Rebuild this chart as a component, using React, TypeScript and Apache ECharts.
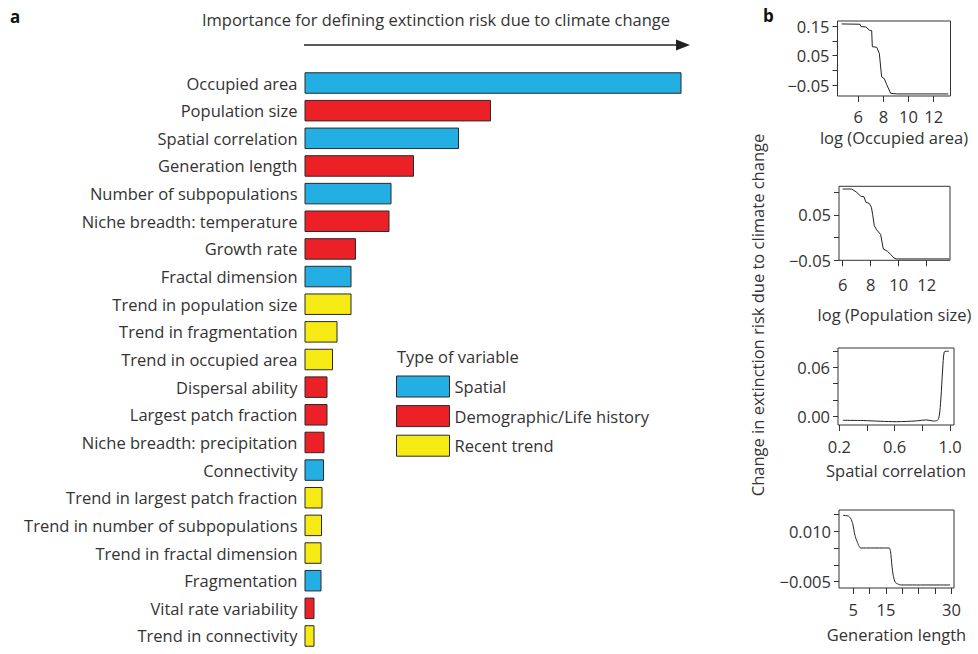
import React, { useEffect, useRef } from "react";
import * as echarts from "echarts";

const FONT = '"Open Sans", "Noto Sans", sans-serif';
const TEXT = "#333333";

// ---- Panel a: variable importance ----
const categories = [
  "Occupied area",
  "Population size",
  "Spatial correlation",
  "Generation length",
  "Number of subpopulations",
  "Niche breadth: temperature",
  "Growth rate",
  "Fractal dimension",
  "Trend in population size",
  "Trend in fragmentation",
  "Trend in occupied area",
  "Dispersal ability",
  "Largest patch fraction",
  "Niche breadth: precipitation",
  "Connectivity",
  "Trend in largest patch fraction",
  "Trend in number of subpopulations",
  "Trend in fractal dimension",
  "Fragmentation",
  "Vital rate variability",
  "Trend in connectivity",
];
const importance = [
  37.7, 18.65, 15.45, 10.95, 8.7, 8.5, 5.15, 4.7, 4.7, 3.3, 2.85, 2.3, 2.3, 2.0,
  1.95, 1.8, 1.75, 1.7, 1.7, 1.0, 1.0,
];
const variableType = [
  "Spatial",
  "Demographic/Life history",
  "Spatial",
  "Demographic/Life history",
  "Spatial",
  "Demographic/Life history",
  "Demographic/Life history",
  "Spatial",
  "Recent trend",
  "Recent trend",
  "Recent trend",
  "Demographic/Life history",
  "Demographic/Life history",
  "Demographic/Life history",
  "Spatial",
  "Recent trend",
  "Recent trend",
  "Recent trend",
  "Spatial",
  "Demographic/Life history",
  "Recent trend",
];
const typeNames = ["Spatial", "Demographic/Life history", "Recent trend"];
const typeColors = ["#23aee4", "#ec2128", "#f5ea14"];

// ---- Panel b: partial dependence curves ----
const occAreaX = [4.68, 6.14, 6.22, 6.61, 6.88, 7.07, 7.12, 7.47, 7.68, 7.86, 8.07, 8.26, 8.58, 9.06, 13.17];
const occAreaY = [0.157, 0.156, 0.148, 0.147, 0.136, 0.134, 0.08, 0.078, 0.057, -0.022, -0.028, -0.048, -0.078, -0.08, -0.08];

const popSizeX = [6.0, 6.64, 7.0, 7.29, 7.52, 7.66, 7.9, 8.05, 8.14, 8.26, 8.43, 8.71, 8.9, 9.19, 9.43, 9.66, 9.86, 13.61];
const popSizeY = [0.107, 0.107, 0.1, 0.091, 0.09, 0.078, 0.075, 0.067, 0.051, 0.026, 0.017, 0.007, -0.025, -0.03, -0.037, -0.045, -0.047, -0.047];

const spCorrX = [0.225, 0.373, 0.5, 0.614, 0.759, 0.831, 0.879, 0.908, 0.922, 0.934, 0.947, 0.958, 0.971, 0.992];
const spCorrY = [-0.0053, -0.0056, -0.0065, -0.007, -0.006, -0.0048, -0.0062, -0.0055, 0.0, 0.021, 0.058, 0.079, 0.08, 0.08];

const genLenX = [1.94, 3.47, 4.2, 4.8, 5.5, 6.2, 7.26, 16.0, 16.4, 16.8, 17.2, 17.8, 18.8, 19.5, 34.6];
const genLenY = [0.0147, 0.0145, 0.0138, 0.0123, 0.0088, 0.0068, 0.005, 0.005, 0.0039, -0.0001, -0.0031, -0.0052, -0.0058, -0.006, -0.006];

const occAreaTicks = [6, 8, 10, 12];
const occAreaYTicks = [-0.05, 0, 0.05, 0.1, 0.15];
const occAreaYLabels = [-0.05, 0.05, 0.15];
const popSizeTicks = [6, 8, 10, 12];
const popSizeYTicks = [-0.05, 0, 0.05, 0.1];
const popSizeYLabels = [-0.05, 0.05];
const spCorrTicks = [0.2, 0.4, 0.6, 0.8, 1.0];
const spCorrLabels = [0.2, 0.6, 1.0];
const spCorrYTicks = [0, 0.02, 0.04, 0.06, 0.08];
const spCorrYLabels = [0, 0.06];
const genLenTicks = [5, 10, 15, 20, 25, 30, 35];
const genLenLabelValues = [5, 15, 35];
const genLenLabelTexts = ["5", "15", "30"];
const genLenYTicks = [-0.005, 0, 0.005, 0.01, 0.015];
const genLenYLabels = [-0.005, 0.01];

const fmt = (d: number) => (v: number) => {
  const s = Math.abs(v).toFixed(d);
  return v < -1e-12 ? "\u2212" + s : s;
};

export default function App() {
  const ref = useRef<HTMLDivElement>(null);

  useEffect(() => {
    const chart = echarts.init(ref.current!, null, { renderer: "svg" });

    const FS = 16.5;
    const labelStyle = { fontFamily: FONT, fontSize: FS, color: TEXT };
    const tightStyle = { ...labelStyle, lineHeight: 17 };

    const panels = [
      {
        grid: { left: 837.5, top: 21, width: 113, height: 75 },
        x: { min: 4.35, max: 13.34, ticks: occAreaTicks, labels: occAreaTicks, fmtX: (v: number) => String(v), margin: 12, name: "log (Occupied area)", nameGap: 33 },
        y: { min: -0.087, max: 0.167, ticks: occAreaYTicks, labels: occAreaYLabels, fmtY: fmt(2) },
        data: occAreaX.map((x, i) => [x, occAreaY[i]]),
        smooth: false,
      },
      {
        grid: { left: 839, top: 186.3, width: 111, height: 74 },
        x: { min: 5.74, max: 13.66, ticks: popSizeTicks, labels: popSizeTicks, fmtX: (v: number) => String(v), margin: 16, name: "log (Population size)", nameGap: 46 },
        y: { min: -0.05, max: 0.113, ticks: popSizeYTicks, labels: popSizeYLabels, fmtY: fmt(2) },
        data: popSizeX.map((x, i) => [x, popSizeY[i]]),
        smooth: false,
      },
      {
        grid: { left: 838, top: 348, width: 116, height: 77 },
        x: { min: 0.19, max: 1.029, ticks: spCorrTicks, labels: spCorrLabels, fmtX: (v: number) => v.toFixed(1), margin: 12.5, name: "Spatial correlation", nameGap: 36.5 },
        y: { min: -0.0111, max: 0.084, ticks: spCorrYTicks, labels: spCorrYLabels, fmtY: fmt(2) },
        data: spCorrX.map((x, i) => [x, spCorrY[i]]),
        smooth: 0.3,
      },
      {
        grid: { left: 839, top: 510, width: 115, height: 78 },
        x: {
          min: 0.63,
          max: 35.8,
          ticks: genLenTicks,
          labels: genLenLabelValues,
          fmtX: (v: number) => {
            const k = genLenLabelValues.indexOf(v);
            return k >= 0 ? genLenLabelTexts[k] : "";
          },
          margin: 12.8,
          name: "Generation length",
          nameGap: 37.5,
        },
        y: { min: -0.0069, max: 0.0163, ticks: genLenYTicks, labels: genLenYLabels, fmtY: fmt(3) },
        data: genLenX.map((x, i) => [x, genLenY[i]]),
        smooth: 0.2,
      },
    ];

    const grids: any[] = [
      { left: 304.5, top: 69.2, width: 400, height: 580.6, containLabel: false },
    ];
    const xAxes: any[] = [{ gridIndex: 0, type: "value", min: 0, max: 40, show: false }];
    const yAxes: any[] = [
      {
        gridIndex: 0,
        type: "category",
        data: categories,
        inverse: true,
        axisLine: { show: false },
        axisTick: { show: false },
        axisLabel: { ...labelStyle, margin: 7 },
      },
    ];
    const series: any[] = typeNames.map((t, k) => ({
      name: t,
      type: "bar",
      stack: "imp",
      xAxisIndex: 0,
      yAxisIndex: 0,
      barWidth: 21.5,
      data: importance.map((v, i) => (variableType[i] === t ? v : "-")),
      itemStyle: { color: typeColors[k], borderColor: "#2a2a2a", borderWidth: 1 },
    }));

    panels.forEach((p, idx) => {
      const gi = idx + 1;
      grids.push({ ...p.grid, show: true, borderColor: "#333", borderWidth: 1, backgroundColor: "transparent" });
      xAxes.push({
        gridIndex: gi,
        type: "value",
        position: "bottom",
        min: p.x.min,
        max: p.x.max,
        axisLine: { show: false, onZero: false },
        splitLine: { show: false },
        axisTick: { show: true, length: 6, customValues: p.x.ticks, lineStyle: { color: "#333" } },
        axisLabel: { ...tightStyle, margin: p.x.margin, customValues: p.x.labels, formatter: p.x.fmtX },
        name: p.x.name,
        nameLocation: "middle",
        nameGap: p.x.nameGap,
        nameTextStyle: { ...tightStyle },
      });
      yAxes.push({
        gridIndex: gi,
        type: "value",
        position: "left",
        min: p.y.min,
        max: p.y.max,
        axisLine: { show: false, onZero: false },
        splitLine: { show: false },
        axisTick: { show: true, length: 5, customValues: p.y.ticks, lineStyle: { color: "#333" } },
        axisLabel: { ...labelStyle, margin: 8, customValues: p.y.labels, formatter: p.y.fmtY },
      });
      series.push({
        type: "line",
        xAxisIndex: gi,
        yAxisIndex: gi,
        data: p.data,
        showSymbol: false,
        symbol: "none",
        smooth: p.smooth,
        lineStyle: { color: "#222", width: 1 },
        silent: true,
      });
    });

    const option: any = {
      animation: false,
      backgroundColor: "#ffffff",
      textStyle: { fontFamily: FONT },
      grid: grids,
      xAxis: xAxes,
      yAxis: yAxes,
      series,
      legend: {
        data: typeNames,
        orient: "vertical",
        left: 396,
        top: 375.5,
        padding: 0,
        itemWidth: 53,
        itemHeight: 21,
        itemGap: 7.6,
        icon: "rect",
        selectedMode: false,
        itemStyle: { borderColor: "#2a2a2a", borderWidth: 1 },
        textStyle: { ...labelStyle },
      },
      graphic: [
        { type: "text", left: 10, top: 8, style: { text: "a", fontFamily: FONT, fontSize: 17, fontWeight: "bold", fill: "#111" } },
        { type: "text", left: 763, top: 7, style: { text: "b", fontFamily: FONT, fontSize: 17, fontWeight: "bold", fill: "#111" } },
        {
          type: "text",
          x: 436,
          y: 19,
          style: {
            text: "Importance for defining extinction risk due to climate change",
            fontFamily: FONT,
            fontSize: FS,
            fill: TEXT,
            align: "center",
            verticalAlign: "middle",
          },
        },
        { type: "line", shape: { x1: 304, y1: 45, x2: 680, y2: 45 }, style: { stroke: "#222", lineWidth: 1.3 } },
        { type: "polygon", shape: { points: [[676, 39.5], [690, 45], [676, 50.5]] }, style: { fill: "#222" } },
        {
          type: "text",
          x: 397,
          y: 356,
          style: { text: "Type of variable", fontFamily: FONT, fontSize: FS, fill: TEXT, align: "left", verticalAlign: "middle" },
        },
        {
          type: "text",
          x: 757,
          y: 315,
          rotation: Math.PI / 2,
          style: {
            text: "Change in extinction risk due to climate change",
            fontFamily: FONT,
            fontSize: FS,
            fill: TEXT,
            align: "center",
            verticalAlign: "middle",
          },
        },
      ],
    };

    chart.setOption(option);
    return () => chart.dispose();
  }, []);

  return (
    <div
      ref={ref}
      style={{ position: "fixed", left: 0, top: 0, width: 978, height: 654, background: "#fff" }}
    />
  );
}
